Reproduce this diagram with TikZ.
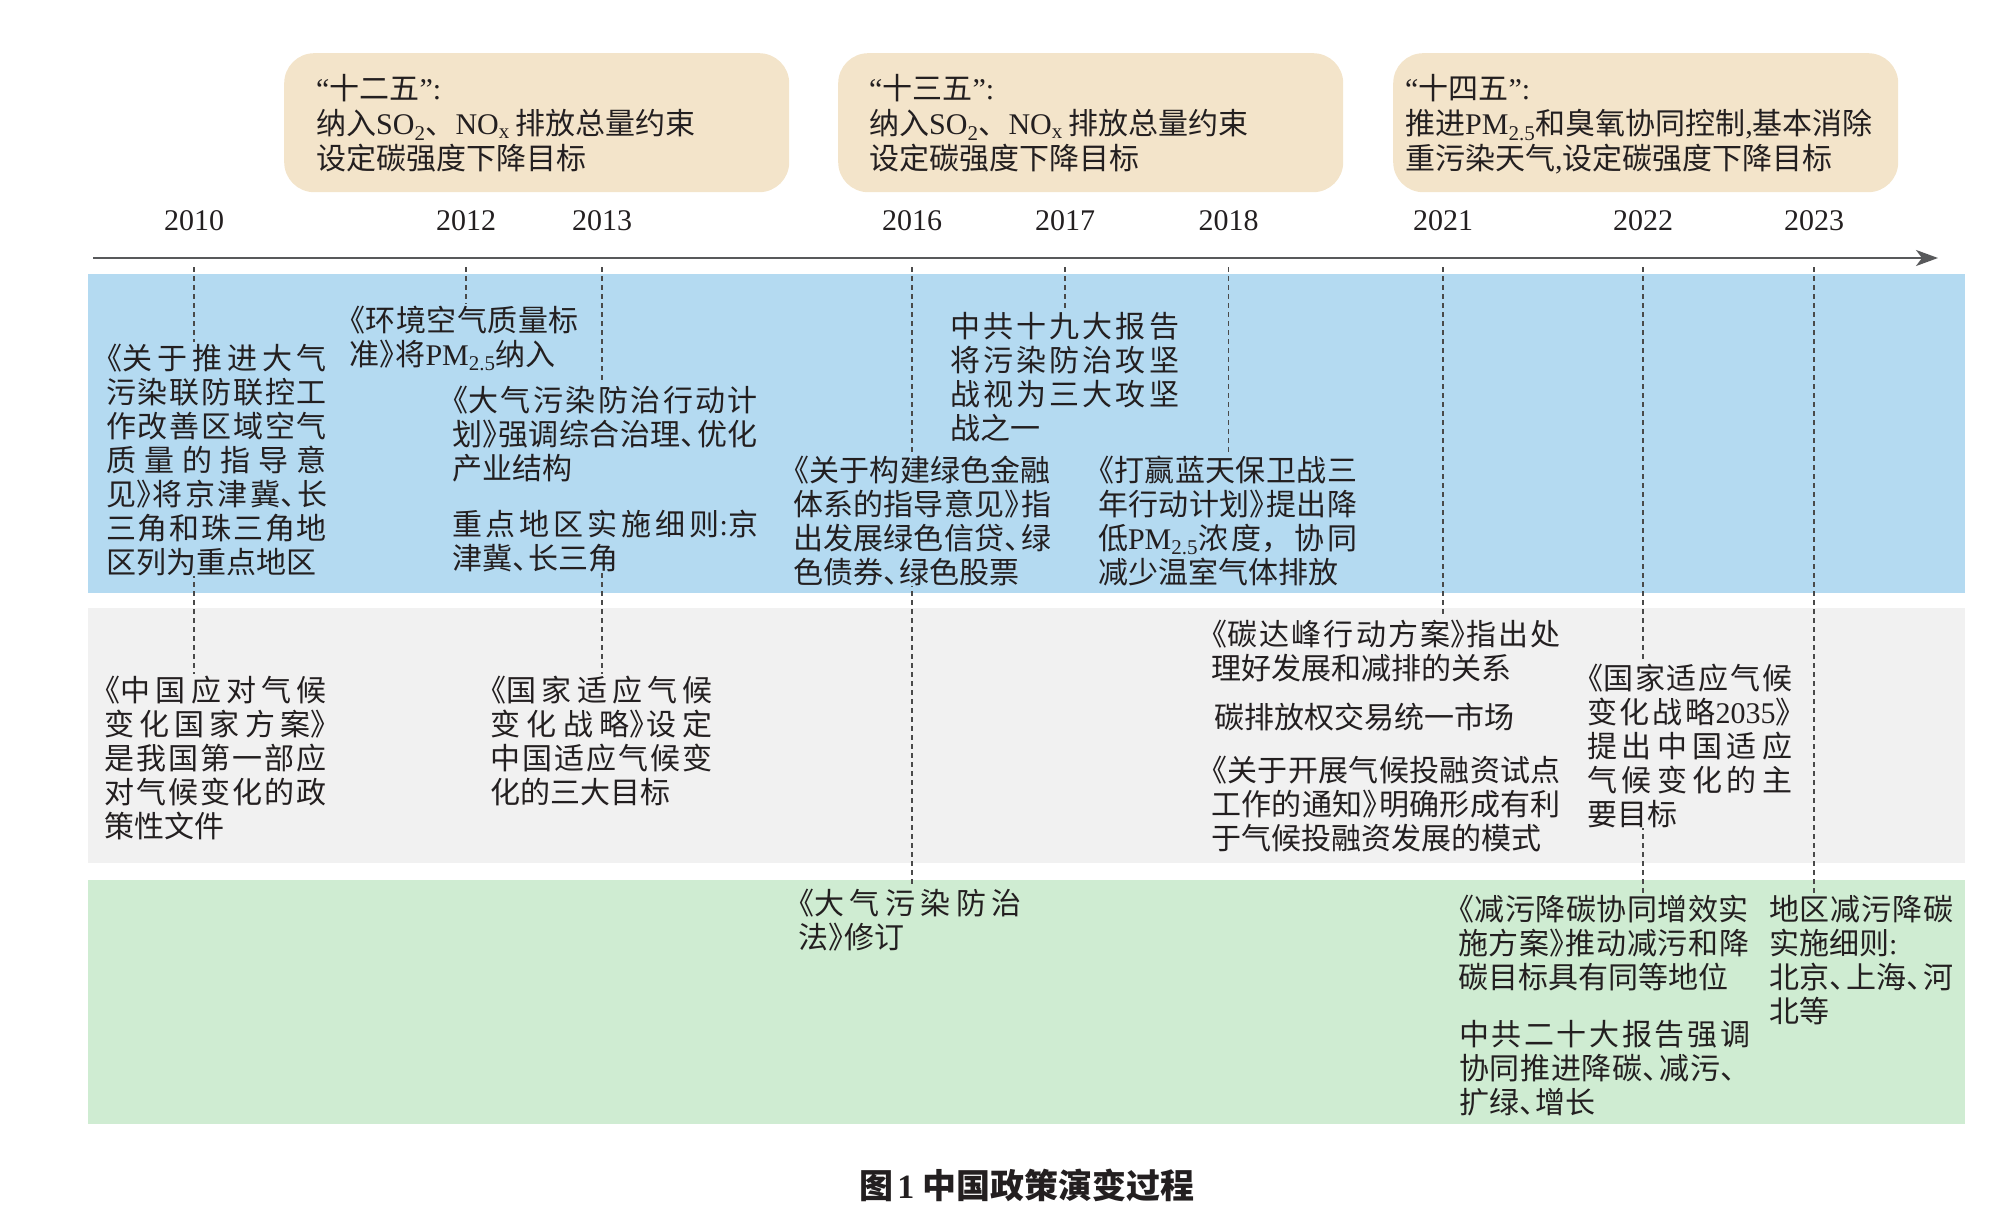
\documentclass[tikz,border=0pt]{standalone}
\usepackage{fontspec}
\setmainfont{Noto Sans CJK SC}
\newfontfamily\lat{Liberation Serif}
\newcommand\latx[1]{{\lat #1}}
\usetikzlibrary{arrows.meta}
\XeTeXlinebreaklocale "zh"
\XeTeXlinebreakskip=0pt plus 4pt
\tolerance=10000
\hbadness=10000
\hfuzz=200pt
\definecolor{bandblue}{HTML}{B4DAF1}
\definecolor{bandgray}{HTML}{F1F1F1}
\definecolor{bandgreen}{HTML}{CFECD2}
\definecolor{boxbeige}{HTML}{F3E4CA}
\definecolor{txtc}{HTML}{231F20}
\definecolor{axisc}{HTML}{58595B}
\definecolor{dashc}{HTML}{4A4A4A}
\newcommand\bkl{\hspace*{-0.45em}《}
\newcommand\bkr{》\kern-0.45em}
\newcommand\dun{、\kern-0.45em}
\newcommand\topst{\rule{0pt}{27pt}}
\newcommand\pmtf{{\lat PM\textsubscript{2.5}}}
\newcommand\jbr{\linebreak}
\newcommand\sonox{\latx{SO\textsubscript{2}}、\latx{NO\textsubscript{x}}\hspace{0.2em}}
\pgfdeclarelayer{bg}
\pgfdeclarelayer{lines}
\pgfsetlayers{bg,lines,main}
\tikzset{
  txt/.style={anchor=north west, inner sep=0pt, outer sep=0pt, align=justify, text=txtc,
    font=\fontsize{30}{34}\selectfont},
  blu/.style={txt, fill=bandblue},
  gry/.style={txt, fill=bandgray},
  grn/.style={txt, fill=bandgreen},
  toptxt/.style={anchor=north west, inner sep=0pt, align=left, text width=480pt, text=txtc,
    font=\fontsize{30}{35}\selectfont},
  pbox/.style={anchor=north west, fill=boxbeige, rounded corners=30pt, inner sep=0pt,
    minimum width=505pt, minimum height=139pt},
  year/.style={inner sep=0pt, text=txtc, font=\fontsize{30}{36}\selectfont\lat},
  dl/.style={draw=dashc, line width=1.8pt, dash pattern=on 5pt off 4pt},
  axisln/.style={draw=axisc, line width=2pt, -{Stealth[length=22pt, width=16pt, inset=6pt]}}
}
\begin{document}
\begin{tikzpicture}[x=1pt, y=-1pt]
\useasboundingbox (0,0) rectangle (1992,1223);
% bands
\begin{pgfonlayer}{bg}
\fill[bandblue] (88,274) rectangle (1965,593);
\fill[bandgray] (88,608) rectangle (1965,863);
\fill[bandgreen] (88,880) rectangle (1965,1124);
\end{pgfonlayer}
% five-year plan boxes
\node[pbox] (p12) at (284,53) {};
\node[pbox] (p13) at (838,53) {};
\node[pbox] (p14) at (1393,53) {};
\node[toptxt] (p12t) at (316,72.7) {\topst\latx{“}十二五\latx{”:}\\纳入\sonox 排放总量约束\\设定碳强度下降目标};
\node[toptxt] (p13t) at (869,72.7) {\topst\latx{“}十三五\latx{”:}\\纳入\sonox 排放总量约束\\设定碳强度下降目标};
\node[toptxt] (p14t) at (1405,72.7) {\topst\latx{“}十四五\latx{”:}\\推进\pmtf 和臭氧协同控制\latx{,}基本消除\\重污染天气\latx{,}设定碳强度下降目标};
% years
\node[year] (y2010) at (194,221) {2010};
\node[year] (y2012) at (466,221) {2012};
\node[year] (y2013) at (602,221) {2013};
\node[year] (y2016) at (912,221) {2016};
\node[year] (y2017) at (1065,221) {2017};
\node[year] (y2018) at (1228.5,221) {2018};
\node[year] (y2021) at (1443,221) {2021};
\node[year] (y2022) at (1643,221) {2022};
\node[year] (y2023) at (1814,221) {2023};
% axis
\coordinate (axL) at (93,258);
\coordinate (axR) at (1938,258);
\draw[axisln] (axL) -- (axR);
% blue band texts
\node[blu, text width=221pt] (b1) at (106,342.4) {\topst\bkl 关于推进大气\jbr 污染联防联控工\jbr 作改善区域空气\jbr 质量的指导意\jbr 见\bkr 将京津冀\dun 长\jbr 三角和珠三角地\jbr 区列为重点地区};
\node[blu, text width=230pt] (b2) at (349,304.4) {\topst\bkl 环境空气质量标\jbr 准\bkr 将\pmtf 纳入};
\node[blu, text width=306pt] (b3) at (452,384.4) {\topst\bkl 大气污染防治行动计\jbr 划\bkr 强调综合治理\dun 优化\jbr 产业结构\par\vskip 22pt 重点地区实施细则\latx{:}京\jbr 津冀\dun 长三角};
\node[blu, text width=229pt] (b5) at (950,310.4) {\topst 中共十九大报告\jbr 将污染防治攻坚\jbr 战视为三大攻坚\jbr 战之一};
\node[blu, text width=258pt] (b6) at (793,454.4) {\topst\bkl 关于构建绿色金融\jbr 体系的指导意见\bkr 指\jbr 出发展绿色信贷\dun 绿\jbr 色债券\dun 绿色股票};
\node[blu, text width=259pt] (b7) at (1098,454.4) {\topst\bkl 打赢蓝天保卫战三\jbr 年行动计划\bkr 提出降\jbr 低\pmtf 浓度，协同\jbr 减少温室气体排放};
% gray band texts
\node[gry, text width=223pt] (g1) at (104,674.4) {\topst\bkl 中国应对气候\jbr 变化国家方案\bkr\jbr 是我国第一部应\jbr 对气候变化的政\jbr 策性文件};
\node[gry, text width=223pt] (g2) at (490,674.4) {\topst\bkl 国家适应气候\jbr 变化战略\bkr 设定\jbr 中国适应气候变\jbr 化的三大目标};
\node[gry, text width=350pt] (g3) at (1211,618.4) {\topst\bkl 碳达峰行动方案\bkr 指出处\jbr 理好发展和减排的关系};
\node[gry, align=left] (g4) at (1214,701.9) {\topst 碳排放权交易统一市场};
\node[gry, text width=350pt] (g5) at (1211,754.4) {\topst\bkl 关于开展气候投融资试点\jbr 工作的通知\bkr 明确形成有利\jbr 于气候投融资发展的模式};
\node[gry, text width=205pt] (g6) at (1587,662.4) {\topst\bkl 国家适应气候\jbr 变化战略\latx{2035}\bkr\jbr 提出中国适应\jbr 气候变化的主\jbr 要目标};
% green band texts
\node[grn, text width=224pt] (n1) at (798,887.4) {\topst\bkl 大气污染防治\jbr 法\bkr 修订};
\node[grn, text width=291pt] (n2) at (1458,893.4) {\topst\bkl 减污降碳协同增效实\jbr 施方案\bkr 推动减污和降\jbr 碳目标具有同等地位};
\node[grn, text width=291pt] (n3) at (1459,1018.4) {\topst 中共二十大报告强调\jbr 协同推进降碳\dun 减污、\jbr 扩绿\dun 增长};
\node[grn, text width=184pt] (n4) at (1769,893.4) {\topst 地区减污降碳\jbr 实施细则\latx{:}\\北京\dun 上海\dun 河\jbr 北等};
% caption
\node[inner sep=0pt, text=txtc, font=\fontsize{34}{40}\selectfont\bfseries] (cap) at (1027,1185) {图\hspace{0.1em}\latx{1} 中国政策演变过程};
% dashed year leaders
\begin{pgfonlayer}{lines}
\coordinate (d2010) at (y2010 |- 0,267);
\coordinate (d2012) at (y2012 |- 0,267);
\coordinate (d2013) at (y2013 |- 0,267);
\coordinate (d2016) at (y2016 |- 0,267);
\coordinate (d2017) at (y2017 |- 0,267);
\coordinate (d2018) at (y2018 |- 0,267);
\coordinate (d2021) at (y2021 |- 0,267);
\coordinate (d2022) at (y2022 |- 0,267);
\coordinate (d2023) at (y2023 |- 0,267);
\draw[dl] (d2010) -- (d2010 |- g1.north);
\draw[dl] (d2012) -- (d2012 |- b2.north);
\draw[dl] (d2013) -- (d2013 |- g2.north);
\draw[dl] (d2016) -- (d2016 |- n1.north);
\draw[dl] (d2017) -- (d2017 |- b5.north);
\draw[dl] (d2018) -- (d2018 |- b7.north);
\draw[dl] (d2021) -- (d2021 |- g3.north);
\draw[dl] (d2022) -- (d2022 |- n2.north);
\draw[dl] (d2023) -- (d2023 |- n4.north);
\end{pgfonlayer}
\end{tikzpicture}
\end{document}
